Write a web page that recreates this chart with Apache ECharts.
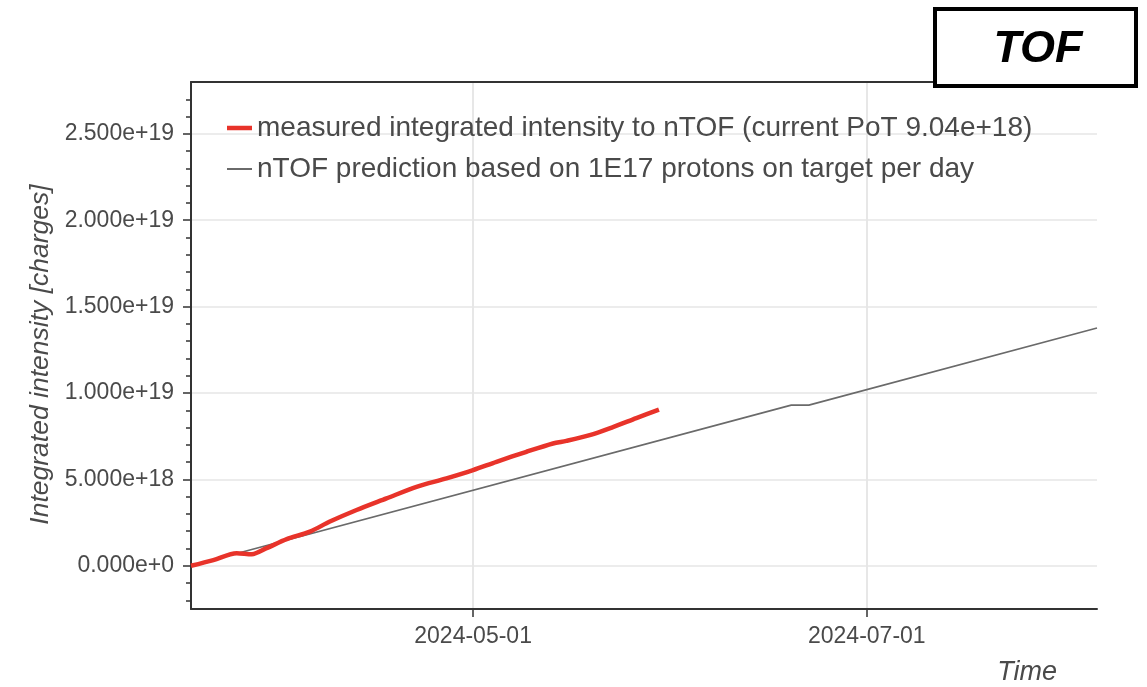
<!DOCTYPE html>
<html>
<head>
<meta charset="utf-8">
<script src="https://cdn.jsdelivr.net/npm/echarts@6/dist/echarts.min.js"></script>
<style>
  html, body { margin: 0; padding: 0; background: #fff; }
  #chart { width: 1147px; height: 687px; }
</style>
</head>
<body>
<div id="chart"></div>
<script>
// ---- data ----
const measuredName = 'measured integrated intensity to nTOF (current PoT 9.04e+18)';
const predictionName = 'nTOF prediction based on 1E17 protons on target per day';

const measuredDates = [
  '2024-03-18 07:00', '2024-03-21 18:00', '2024-03-25 09:00', '2024-03-27 17:00',
  '2024-03-30 00:00', '2024-04-02 03:00', '2024-04-05 17:00', '2024-04-08 19:30',
  '2024-04-12 22:40', '2024-04-17 14:00', '2024-04-22 05:40', '2024-04-26 21:00',
  '2024-05-01 00:00', '2024-05-04 15:00', '2024-05-09 06:20', '2024-05-13 09:00',
  '2024-05-15 11:00', '2024-05-19 01:30', '2024-05-22 16:00', '2024-05-26 07:00',
  '2024-05-29 19:00'
];
const measuredValues = [
  0, 0.33e18, 0.73e18, 0.67e18,
  1.02e18, 1.54e18, 1.98e18, 2.56e18,
  3.23e18, 3.90e18, 4.57e18, 5.06e18,
  5.54e18, 6.02e18, 6.60e18, 7.08e18,
  7.23e18, 7.56e18, 8.03e18, 8.55e18,
  9.04e18
];

const predictionDates = ['2024-03-18 07:00', '2024-06-19 07:00', '2024-06-22 00:30', '2024-08-05 16:00'];
const predictionValues = [0, 9.30e18, 9.30e18, 1.3765e19];

const xMin = '2024-03-18 07:00';
const xMax = '2024-08-05 16:00';
const xTickDates = ['2024-05-01', '2024-07-01'];

const yMin = -2.5e18;
const yMax = 2.8e19;
const yMajorTicks = [0, 5e18, 1e19, 1.5e19, 2e19, 2.5e19];
const yMinorTicks = [
  -2e18, -1e18, 1e18, 2e18, 3e18, 4e18, 6e18, 7e18, 8e18, 9e18,
  1.1e19, 1.2e19, 1.3e19, 1.4e19, 1.6e19, 1.7e19, 1.8e19, 1.9e19,
  2.1e19, 2.2e19, 2.3e19, 2.4e19, 2.6e19, 2.7e19
];

// ---- chart ----
const FONT = 'Liberation Sans';
const AXIS_COLOR = '#333';
const TEXT_COLOR = '#4a4a4a';
const RED = '#e8332a';
const GREY = '#6a6a6a';

const chart = echarts.init(document.getElementById('chart'), null, { renderer: 'canvas' });

const legendText = { fontSize: 28, color: TEXT_COLOR, fontFamily: FONT, lineHeight: 30 };

const option = {
  backgroundColor: '#fff',
  animation: false,
  textStyle: { fontFamily: FONT },
  grid: { left: 191, right: 50, top: 82, bottom: 78, containLabel: false },
  legend: [
    {
      left: 222,
      top: 108,
      itemWidth: 25,
      itemHeight: 4.5,
      icon: 'rect',
      textStyle: legendText,
      data: [measuredName]
    },
    {
      left: 222,
      top: 149,
      itemWidth: 25,
      itemHeight: 2,
      icon: 'rect',
      textStyle: legendText,
      data: [predictionName]
    }
  ],
  xAxis: [
    {
      type: 'time',
      position: 'bottom',
      min: xMin,
      max: xMax,
      axisLine: { show: true, onZero: false, lineStyle: { color: AXIS_COLOR, width: 2 } },
      axisTick: { show: true, length: 8, customValues: xTickDates, lineStyle: { color: AXIS_COLOR, width: 1.5 } },
      axisLabel: {
        customValues: xTickDates,
        formatter: '{yyyy}-{MM}-{dd}',
        fontSize: 23,
        color: TEXT_COLOR,
        fontFamily: FONT,
        margin: 16
      },
      splitLine: { show: true, lineStyle: { color: '#e6e6e6', width: 1.5 } },
      minorTick: { show: false }
    },
    {
      type: 'time',
      position: 'top',
      min: xMin,
      max: xMax,
      axisLine: { show: true, onZero: false, lineStyle: { color: AXIS_COLOR, width: 2 } },
      axisTick: { show: false },
      axisLabel: { show: false },
      splitLine: { show: false }
    }
  ],
  yAxis: [
    {
      type: 'value',
      position: 'left',
      min: yMin,
      max: yMax,
      name: 'Integrated intensity [charges]',
      nameLocation: 'middle',
      nameGap: 137,
      nameTextStyle: { fontSize: 26.5, fontStyle: 'italic', color: TEXT_COLOR, fontFamily: FONT, padding: [0, 18, 0, 0] },
      axisLine: { show: true, onZero: false, lineStyle: { color: AXIS_COLOR, width: 2 } },
      axisTick: { show: true, length: 8, customValues: yMajorTicks, lineStyle: { color: AXIS_COLOR, width: 1.5 } },
      axisLabel: {
        customValues: yMajorTicks,
        formatter: function (v) { return Number(v).toExponential(3); },
        fontSize: 23,
        color: TEXT_COLOR,
        fontFamily: FONT,
        margin: 17
      },
      splitLine: { show: true, lineStyle: { color: '#e6e6e6', width: 1.5 } }
    },
    {
      type: 'value',
      position: 'left',
      min: yMin,
      max: yMax,
      axisLine: { show: false, onZero: false },
      axisTick: { show: true, length: 5, customValues: yMinorTicks, lineStyle: { color: AXIS_COLOR, width: 1.5 } },
      axisLabel: { show: false },
      splitLine: { show: false }
    }
  ],
  series: [
    {
      name: predictionName,
      type: 'line',
      xAxisIndex: 0,
      yAxisIndex: 0,
      showSymbol: false,
      symbol: 'none',
      z: 2,
      lineStyle: { color: GREY, width: 1.6 },
      itemStyle: { color: GREY },
      data: predictionDates.map(function (d, i) { return [d, predictionValues[i]]; })
    },
    {
      name: measuredName,
      type: 'line',
      xAxisIndex: 0,
      yAxisIndex: 0,
      showSymbol: false,
      symbol: 'none',
      smooth: 0.3,
      z: 3,
      lineStyle: { color: RED, width: 4.5 },
      itemStyle: { color: RED },
      data: measuredDates.map(function (d, i) { return [d, measuredValues[i]]; })
    }
  ],
  graphic: [
    {
      type: 'group',
      z: 100,
      children: [
        {
          type: 'rect',
          shape: { x: 935, y: 9, width: 201, height: 77 },
          style: { fill: '#fff', stroke: '#000', lineWidth: 4 },
          z: 100
        },
        {
          type: 'text',
          x: 1038,
          y: 50,
          z: 101,
          style: {
            text: 'TOF',
            font: 'italic bold 45px "Liberation Sans"',
            fill: '#000',
            align: 'center',
            verticalAlign: 'middle'
          }
        }
      ]
    },
    {
      type: 'text',
      x: 1057,
      y: 672,
      z: 100,
      style: {
        text: 'Time',
        font: 'italic 27px "Liberation Sans"',
        fill: TEXT_COLOR,
        align: 'right',
        verticalAlign: 'middle'
      }
    }
  ]
};

chart.setOption(option);
</script>
</body>
</html>
